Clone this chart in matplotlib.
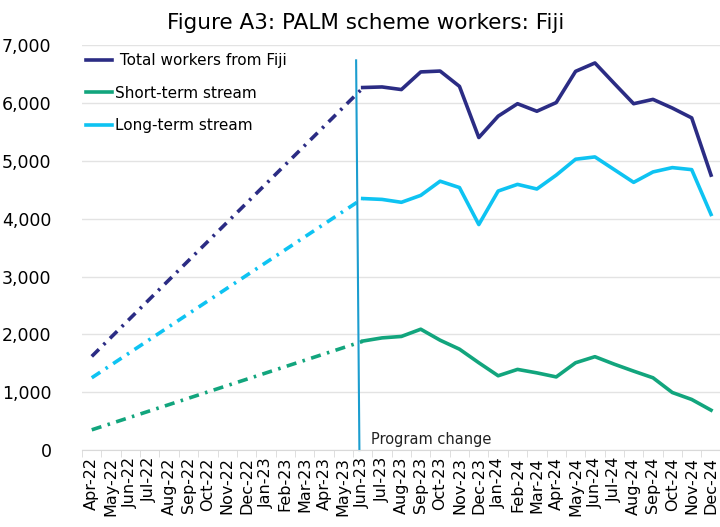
import numpy as np
import matplotlib.pyplot as plt
from matplotlib.lines import Line2D

plt.rcParams['font.family'] = ['DejaVu Sans']

months = ['Apr-22', 'May-22', 'Jun-22', 'Jul-22', 'Aug-22', 'Sep-22', 'Oct-22',
          'Nov-22', 'Dec-22', 'Jan-23', 'Feb-23', 'Mar-23', 'Apr-23', 'May-23',
          'Jun-23', 'Jul-23', 'Aug-23', 'Sep-23', 'Oct-23', 'Nov-23', 'Dec-23',
          'Jan-24', 'Feb-24', 'Mar-24', 'Apr-24', 'May-24', 'Jun-24', 'Jul-24',
          'Aug-24', 'Sep-24', 'Oct-24', 'Nov-24', 'Dec-24']

# before the program change only start and end are shown (dash-dot)
early_idx = [0, 14]
total_early = [1620, 6260]
short_early = [350, 1880]
long_early = [1250, 4350]

# monthly data from Jun-23
total = [6270, 6280, 6235, 6540, 6555, 6290, 5405, 5775, 5990, 5860, 6010,
         6550, 6695, 6340, 5990, 6065, 5915, 5745, 4755]
short = [1885, 1940, 1965, 2090, 1900, 1745, 1510, 1285, 1395, 1335, 1265,
         1510, 1615, 1485, 1365, 1250, 995, 875, 690]
longt = [4350, 4335, 4285, 4405, 4650, 4540, 3900, 4480, 4595, 4515, 4755,
         5030, 5070, 4850, 4630, 4810, 4885, 4850, 4075]

c_total = '#2B2C84'
c_short = '#12A57D'
c_long = '#0EC3F2'
c_vline = '#1B9DCF'

fig = plt.figure(figsize=(7.2, 5.27), dpi=100)
ax = fig.add_axes([0.114, 0.146, 0.887, 0.768])

x = np.arange(len(months))
xs = x[14:]

dd = (0, (2.8, 1.8, 0.7, 1.8))
for yv, c in [(total_early, c_total), (long_early, c_long), (short_early, c_short)]:
    ax.plot(early_idx, yv, color=c, lw=2.6, linestyle=dd, dash_capstyle='butt')

ax.plot(xs, total, color=c_total, lw=2.6, solid_joinstyle='round')
ax.plot(xs, longt, color=c_long, lw=2.6, solid_joinstyle='round')
ax.plot(xs, short, color=c_short, lw=2.6, solid_joinstyle='round')

# program change marker
ax.plot([13.66, 13.83], [6740, 0], color=c_vline, lw=1.5, clip_on=False)
ax.text(14.45, 190, 'Program change', fontsize=10.5, color='#222222',
        va='center', ha='left')

ax.set_xlim(-0.5, len(months) - 0.5)
ax.set_ylim(0, 7000)
ax.set_yticks(np.arange(0, 7001, 1000))
ax.set_yticklabels([f'{v:,}' for v in range(0, 7001, 1000)], fontsize=12.5)
ax.set_xticks(x)
ax.set_xticklabels(months, rotation=90, fontsize=11.5)
ax.set_xticks(np.arange(-0.5, len(months), 1), minor=True)
ax.tick_params(axis='x', which='major', length=0, pad=5)
ax.tick_params(axis='x', which='minor', length=5, color='#d9d9d9')
ax.tick_params(axis='y', length=0, pad=22)
ax.grid(axis='y', color='#e3e3e3', lw=1)
ax.set_axisbelow(True)
for s in ['top', 'right', 'left']:
    ax.spines[s].set_visible(False)
ax.spines['bottom'].set_color('#d9d9d9')

h = [Line2D([], [], color=c_total, lw=2.6),
     Line2D([], [], color=c_short, lw=2.6),
     Line2D([], [], color=c_long, lw=2.6)]
ax.legend(h, [' Total workers from Fiji', 'Short-term stream', 'Long-term stream'],
          loc='upper left', bbox_to_anchor=(-0.015, 1.015), frameon=False,
          fontsize=11, handlelength=1.7, handletextpad=0.15, labelspacing=1.15)

fig.suptitle('Figure A3: PALM scheme workers: Fiji', fontsize=15.5, x=0.508, y=0.975)

fig.savefig('out.png', dpi=100)
